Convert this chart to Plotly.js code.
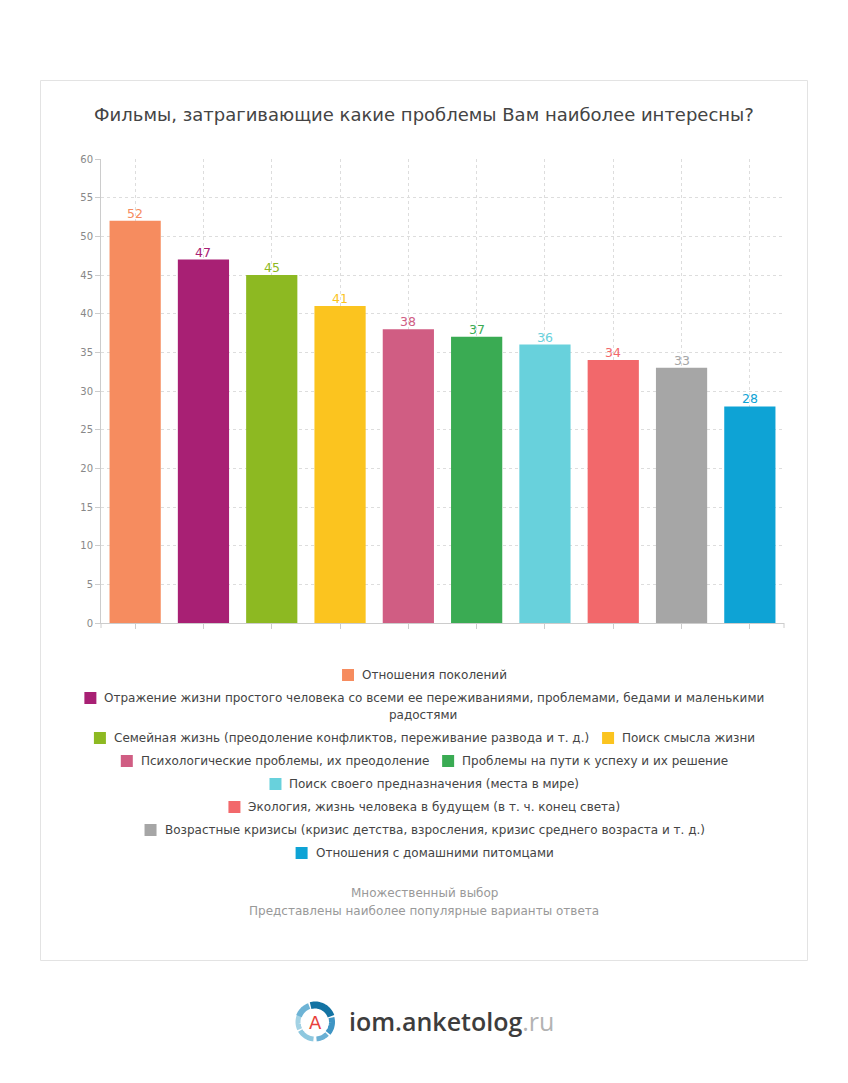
<!DOCTYPE html>
<html><head><meta charset="utf-8">
<script src="https://cdn.plot.ly/plotly-3.0.1.min.js"></script>
<style>body{margin:0;background:#fff}</style>
</head><body><div id="chart"></div>
<script>
const categories = [
  "Отношения поколений",
  "Отражение жизни простого человека со всеми ее переживаниями, проблемами, бедами и маленькими радостями",
  "Семейная жизнь (преодоление конфликтов, переживание развода и т. д.)",
  "Поиск смысла жизни",
  "Психологические проблемы, их преодоление",
  "Проблемы на пути к успеху и их решение",
  "Поиск своего предназначения (места в мире)",
  "Экология, жизнь человека в будущем (в т. ч. конец света)",
  "Возрастные кризисы (кризис детства, взросления, кризис среднего возраста и т. д.)",
  "Отношения с домашними питомцами"
];
const values = [52, 47, 45, 41, 38, 37, 36, 34, 33, 28];
const colors = ["#f68c5f","#a82074","#8db922","#fbc41f","#d05d83","#3aab53","#68d1dc","#f2686b","#a6a6a6","#0ea3d5"];
const yTicks = [0,5,10,15,20,25,30,35,40,45,50,55,60];
const titleText = "Фильмы, затрагивающие какие проблемы Вам наиболее интересны?";
const footnotes = ["Множественный выбор", "Представлены наиболее популярные варианты ответа"];
const legendRows = [[0],[1],[2,3],[4,5],[6],[7],[8],[9]];

const W = 848, H = 1083, L = 101, R = 64, T = 159, B = 460;
const PW = W - L - R, PH = H - T - B;
const X = px => (px - L) / PW;
const Y = py => (H - B - py) / PH;

const LFS = 12;
const ctx = document.createElement('canvas').getContext('2d');
ctx.font = LFS + "px 'DejaVu Sans'";
const tw = s => ctx.measureText(s).width;

function wrap(text, maxW) {
  const words = text.split(' ');
  const lines = []; let cur = '';
  words.forEach(w => {
    const t = cur ? cur + ' ' + w : w;
    if (tw(t) > maxW && cur) { lines.push(cur); cur = w; } else cur = t;
  });
  if (cur) lines.push(cur);
  return lines;
}

const shapes = [];
const annotations = [];

// border box
shapes.push({type:'rect', xref:'paper', yref:'paper', x0:X(40.5), x1:X(807.5), y0:Y(80.5), y1:Y(960.5),
  line:{color:'#e3e3e3', width:1}, fillcolor:'rgba(0,0,0,0)', layer:'below'});
// axis edge ticks
shapes.push({type:'line', xref:'paper', yref:'paper', x0:0, x1:0, y0:Y(623), y1:Y(628), line:{color:'#cccccc', width:1}});
shapes.push({type:'line', xref:'paper', yref:'paper', x0:1, x1:1, y0:Y(623), y1:Y(628), line:{color:'#cccccc', width:1}});

// bar value labels
categories.forEach((c, i) => {
  annotations.push({xref:'x', yref:'y', x:c, y:values[i], xanchor:'center', yanchor:'bottom', yshift:-1,
    text:String(values[i]), showarrow:false, borderpad:0,
    font:{size:12.5, color:colors[i], family:'DejaVu Sans'}});
});

// legend
let cy = 675;
const SQ = 12, GAP = 7, ITEM = 14, CX = 424;
legendRows.forEach(row => {
  const items = row.map(i => {
    const lines = wrap(categories[i], 690);
    const w = Math.max(...lines.map(tw));
    return {i, lines, w};
  });
  const total = items.reduce((s, it) => s + SQ + GAP + it.w, 0) + ITEM * (items.length - 1);
  let x = CX - total / 2;
  let extra = 0;
  items.forEach(it => {
    shapes.push({type:'rect', xref:'paper', yref:'paper', x0:X(x), x1:X(x + SQ), y0:Y(cy + 6), y1:Y(cy - 6),
      fillcolor: colors[it.i], line:{width:0}});
    it.lines.forEach((ln, k) => {
      const first = k === 0;
      annotations.push({xref:'paper', yref:'paper',
        x: first ? X(x + SQ + GAP) : X(CX - 1), y:Y(cy + 17 * k), xanchor: first ? 'left' : 'center', yanchor:'middle',
        text: ln, showarrow:false, borderpad:0,
        font:{size:LFS, color:'#444444', family:'DejaVu Sans'}});
    });
    x += SQ + GAP + it.w + ITEM;
    extra = Math.max(extra, it.lines.length - 1);
  });
  cy += 23 + 17 * extra;
});

// footnotes
footnotes.forEach((f, k) => {
  annotations.push({xref:'paper', yref:'paper', x:X(CX), y:Y(893 + 18 * k), xanchor:'center', yanchor:'middle',
    text:f, showarrow:false, font:{size:12, color:'#999999', family:'DejaVu Sans'}});
});

// logo
const lcx = 315, lcy = 1022, lr = 17;
function arcPath(a0, a1, r) {
  let p = '';
  for (let k = 0; k <= 24; k++) {
    const a = (a0 + (a1 - a0) * k / 24) * Math.PI / 180;
    const px = lcx + r * Math.cos(a), py = lcy - r * Math.sin(a);
    p += (k ? 'L' : 'M') + X(px) + ',' + Y(py);
  }
  return p;
}
const ringSegs = [
  [105, 20, '#1373a3', 7],
  [15, -40, '#3f95c4', 6],
  [-45, -85, '#6ab0d4', 5],
  [-95, -150, '#8ec8df', 5],
  [-155, -205, '#a3d2e4', 5],
  [160, 110, '#6db3d5', 6]
];
ringSegs.forEach(s => shapes.push({type:'path', xref:'paper', yref:'paper', path:arcPath(s[0], s[1], lr),
  line:{color:s[2], width:s[3]}}));
annotations.push({xref:'paper', yref:'paper', x:X(lcx), y:Y(lcy), xanchor:'center', yanchor:'middle',
  text:'A', showarrow:false, font:{size:18, color:'#e8413c', family:'DejaVu Sans'}});
annotations.push({xref:'paper', yref:'paper', x:X(347), y:Y(1021), xanchor:'left', yanchor:'middle',
  text:"iom.anketolog<span style='color:#b3b3b3;font-weight:400'>.ru</span>", showarrow:false,
  font:{size:25, color:'#3d3d3d', family:'Open Sans', weight:600}});

const trace = {
  type:'bar', x:categories, y:values,
  marker:{color:colors, line:{width:0}},
  hoverinfo:'none'
};

const layout = {
  width:W, height:H, paper_bgcolor:'#ffffff', plot_bgcolor:'#ffffff',
  margin:{l:L, r:R, t:T, b:B, pad:0},
  font:{family:'DejaVu Sans', color:'#444444'},
  title:{text:titleText, x:0.5, xref:'container', y:1 - 115/H, yref:'container', yanchor:'middle',
    font:{size:18, color:'#444444', family:'DejaVu Sans'}},
  showlegend:false, bargap:0.25,
  xaxis:{type:'category', showticklabels:false, ticks:'outside', ticklen:5, tickcolor:'#cccccc',
    showgrid:true, gridcolor:'#dddddd', griddash:'3px,3px', gridwidth:1,
    showline:true, linecolor:'#cccccc', linewidth:1, zeroline:false, fixedrange:true},
  yaxis:{range:[0,60], tickvals:yTicks, ticktext:yTicks.map(String), ticks:'outside', ticklen:5, tickcolor:'#cccccc',
    tickfont:{size:10, color:'#888888'}, showgrid:true, gridcolor:'#dddddd', griddash:'3px,3px', gridwidth:1,
    showline:true, linecolor:'#cccccc', linewidth:1, zeroline:false, fixedrange:true},
  shapes, annotations
};
Plotly.newPlot('chart', [trace], layout, {displayModeBar:false, staticPlot:true});
</script></body></html>
